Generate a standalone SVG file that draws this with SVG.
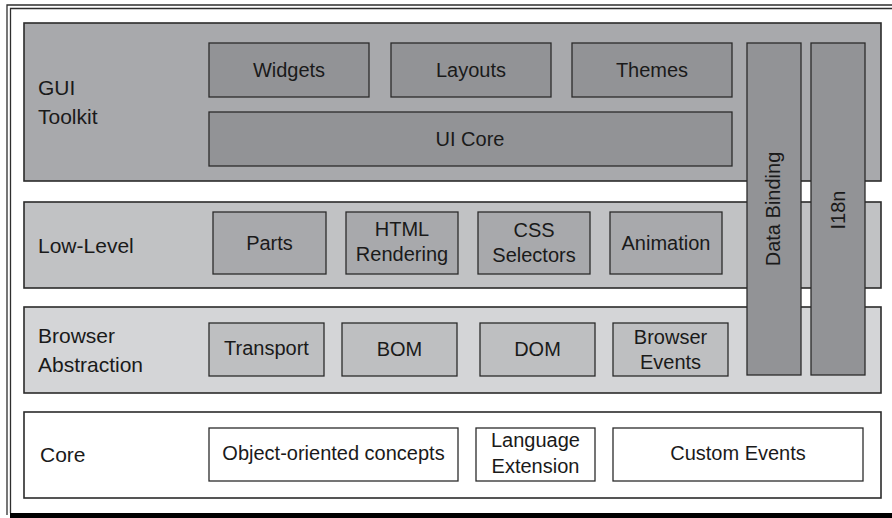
<svg xmlns="http://www.w3.org/2000/svg" width="892" height="518" viewBox="0 0 892 518">
<style>
text{font-family:"Liberation Sans",Arial,sans-serif;fill:#1a1a1a}
.lbl{font-size:21px}
.bx{font-size:20px;text-anchor:middle}
.frame{fill:none;stroke:#2e2e2e;stroke-width:1.3}
.layer{stroke:#2b2b2b;stroke-width:1.6}
.box{stroke:#2b2b2b;stroke-width:1.3}
.gui{fill:#a8a9ac}
.guib{fill:#929396}
.low{fill:#c1c2c4}
.lowb{fill:#a8a9ac}
.bro{fill:#d4d5d7}
.brob{fill:#bebfc1}
.core{fill:#ffffff}
</style>
<rect width="892" height="518" fill="#ffffff"/>
<g id="frame">
<polyline class="frame" points="892,5 7,5 7,515"/>
<polyline class="frame" points="892,8.5 10.5,8.5 10.5,513"/>
<rect x="10" y="513" width="882" height="5" fill="#000000"/>
</g>
<g id="gui-toolkit">
<rect class="layer gui" x="24" y="23" width="857" height="158"/>
<text class="lbl" x="38" y="95">GUI</text>
<text class="lbl" x="38" y="124">Toolkit</text>
</g>
<g id="widgets"><rect class="box guib" x="209" y="43" width="160" height="54"/><text class="bx" x="289" y="77">Widgets</text></g>
<g id="layouts"><rect class="box guib" x="391" y="43" width="160" height="54"/><text class="bx" x="471" y="77">Layouts</text></g>
<g id="themes"><rect class="box guib" x="572" y="43" width="160" height="54"/><text class="bx" x="652" y="77">Themes</text></g>
<g id="ui-core"><rect class="box guib" x="209" y="112" width="523" height="54"/><text class="bx" x="470" y="146">UI Core</text></g>
<g id="low-level">
<rect class="layer low" x="24" y="202" width="857" height="86"/>
<text class="lbl" x="38" y="253">Low-Level</text>
</g>
<g id="parts"><rect class="box lowb" x="213" y="212" width="113" height="62"/><text class="bx" x="269.5" y="250">Parts</text></g>
<g id="html-rendering"><rect class="box lowb" x="346" y="212" width="112" height="62"/><text class="bx" x="402" y="236">HTML</text><text class="bx" x="402" y="261">Rendering</text></g>
<g id="css-selectors"><rect class="box lowb" x="478" y="212" width="112" height="62"/><text class="bx" x="534" y="237">CSS</text><text class="bx" x="534" y="262">Selectors</text></g>
<g id="animation"><rect class="box lowb" x="610" y="212" width="112" height="62"/><text class="bx" x="666" y="250">Animation</text></g>
<g id="browser-abstraction">
<rect class="layer bro" x="24" y="307" width="857" height="86"/>
<text class="lbl" x="38" y="343">Browser</text>
<text class="lbl" x="38" y="372">Abstraction</text>
</g>
<g id="transport"><rect class="box brob" x="209" y="323" width="115" height="53"/><text class="bx" x="266.5" y="355">Transport</text></g>
<g id="bom"><rect class="box brob" x="342" y="323" width="115" height="53"/><text class="bx" x="399.5" y="356">BOM</text></g>
<g id="dom"><rect class="box brob" x="480" y="323" width="115" height="53"/><text class="bx" x="537.5" y="356">DOM</text></g>
<g id="browser-events"><rect class="box brob" x="613" y="323" width="115" height="53"/><text class="bx" x="670.5" y="344">Browser</text><text class="bx" x="670.5" y="369">Events</text></g>
<g id="data-binding"><rect class="box guib" x="747" y="43" width="54" height="332"/><text class="bx" transform="translate(780,209) rotate(-90)">Data Binding</text></g>
<g id="i18n"><rect class="box guib" x="811" y="43" width="54" height="332"/><text class="bx" transform="translate(845,210) rotate(-90)">I18n</text></g>
<g id="core">
<rect class="layer core" x="24" y="412" width="857" height="86"/>
<text class="lbl" x="40" y="462">Core</text>
</g>
<g id="oo-concepts"><rect class="box core" x="209" y="428" width="249" height="53"/><text class="bx" x="333.5" y="460">Object-oriented concepts</text></g>
<g id="language-extension"><rect class="box core" x="476" y="428" width="119" height="53"/><text class="bx" x="535.5" y="447">Language</text><text class="bx" x="535.5" y="473">Extension</text></g>
<g id="custom-events"><rect class="box core" x="613" y="428" width="250" height="53"/><text class="bx" x="738" y="460">Custom Events</text></g>
<g id="connectors"></g>
</svg>
